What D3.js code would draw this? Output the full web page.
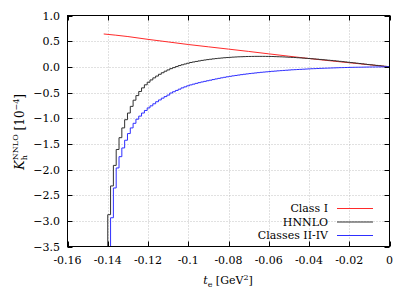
<!DOCTYPE html>
<html>
<head>
<meta charset="utf-8">
<script src="https://cdn.jsdelivr.net/npm/d3@7"></script>
<style>
html,body{margin:0;padding:0;background:#fff;}
svg{display:block;}
text{font-family:"DejaVu Serif",serif;fill:#000;}
</style>
</head>
<body>
<svg id="chart" width="415" height="291"></svg>
<script>
// ---------- data ----------
const xTicks = [-0.16,-0.14,-0.12,-0.10,-0.08,-0.06,-0.04,-0.02,0];
const xTickLabels = ["-0.16","-0.14","-0.12","-0.1","-0.08","-0.06","-0.04","-0.02","0"];
const yTicks = [1.0,0.5,0.0,-0.5,-1.0,-1.5,-2.0,-2.5,-3.0,-3.5];
const yTickLabels = ["1.0","0.5","0.0","\u22120.5","\u22121.0","\u22121.5","\u22122.0","\u22122.5","\u22123.0","\u22123.5"];

const seriesNames = ["Class I","HNNLO","Classes II-IV"];

// Class I (smooth curve)
const classI_t = [-0.142,-0.13,-0.12,-0.11,-0.10,-0.09,-0.08,-0.07,-0.06,-0.05,-0.04,-0.03,-0.02,-0.01,0];
const classI_v = [0.64,0.59,0.535,0.485,0.435,0.39,0.345,0.30,0.253,0.207,0.162,0.12,0.08,0.04,0];

// histogram bins (first bin edge, width)
const binStart = -0.1414;
const binWidth = 0.0014;

const hnnlo = [-4.5,
 -2.88,-2.32,-1.92,-1.61,-1.38,-1.19,-1.03,-0.90,-0.77,-0.65,
 -0.56,-0.48,-0.41,-0.35,-0.30,-0.255,-0.215,-0.18,-0.145,-0.115,
 -0.085,-0.06,-0.035,-0.015,0.005,0.025,0.04,0.055,0.07,0.085,
 0.095,0.105,0.115,0.125,0.133,0.141,0.148,0.155,0.161,0.167,
 0.172,0.177,0.181,0.185,0.189,0.192,0.195,0.197,0.199,0.201,
 0.202,0.203,0.204,0.204,0.204,0.204,0.203,0.202,0.201,0.199,
 0.197,0.195,0.193,0.190,0.187,0.184,0.181,0.177,0.174,0.170,
 0.166,0.162,0.158,0.153,0.149,0.144,0.139,0.134,0.129,0.124,
 0.118,0.113,0.107,0.101,0.095,0.089,0.083,0.077,0.071,0.065,
 0.058,0.052,0.046,0.040,0.034,0.028,0.022,0.016,0.010,0.004];

const classesII_IV = [-5.0,
 -4.2,-2.94,-2.36,-1.97,-1.75,-1.58,-1.43,-1.30,-1.19,-1.10,
 -1.02,-0.96,-0.90,-0.85,-0.80,-0.76,-0.72,-0.68,-0.645,-0.61,
 -0.58,-0.55,-0.51,-0.485,-0.46,-0.435,-0.41,-0.39,-0.37,-0.352,
 -0.337,-0.322,-0.308,-0.295,-0.283,-0.271,-0.26,-0.248,-0.236,-0.225,
 -0.214,-0.204,-0.194,-0.185,-0.176,-0.168,-0.160,-0.152,-0.145,-0.138,
 -0.131,-0.125,-0.119,-0.113,-0.107,-0.102,-0.097,-0.092,-0.087,-0.083,
 -0.078,-0.074,-0.070,-0.066,-0.062,-0.058,-0.055,-0.052,-0.049,-0.046,
 -0.043,-0.040,-0.037,-0.035,-0.032,-0.030,-0.028,-0.026,-0.024,-0.022,
 -0.020,-0.018,-0.016,-0.015,-0.013,-0.012,-0.010,-0.009,-0.008,-0.007,
 -0.006,-0.005,-0.004,-0.003,-0.003,-0.002,-0.002,-0.001,-0.001,0.000];

const colors = ["#ff2a2a","#303030","#2f2fff"];

// ---------- drawing ----------
const svg = d3.select("#chart");
const L = 67.5, R = 389.5, T = 15.5, B = 246.5;
const x = d3.scaleLinear().domain([-0.16,0]).range([L,R]);
const y = d3.scaleLinear().domain([-3.5,1.0]).range([B,T]);

svg.append("defs").append("clipPath").attr("id","clip")
  .append("rect").attr("x",L).attr("y",T).attr("width",R-L).attr("height",B-T);

// grid
const grid = svg.append("g").attr("stroke","#b4b4b4").attr("stroke-width",0.8).attr("stroke-dasharray","1,2");
xTicks.slice(1,-1).forEach(t=>{
  grid.append("line").attr("x1",Math.round(x(t))+0.5).attr("x2",Math.round(x(t))+0.5).attr("y1",T).attr("y2",B);
});
yTicks.slice(1,-1).forEach(v=>{
  grid.append("line").attr("y1",Math.round(y(v))+0.5).attr("y2",Math.round(y(v))+0.5).attr("x1",L).attr("x2",R);
});

// curves
const plot = svg.append("g").attr("clip-path","url(#clip)");
const smooth = d3.line().x(d=>x(d[0])).y(d=>y(d[1])).curve(d3.curveMonotoneX);
const step = d3.line().x(d=>x(d[0])).y(d=>y(d[1])).curve(d3.curveStepAfter);

function histPoints(vals){
  const pts = vals.map((v,i)=>[binStart + i*binWidth, v]);
  pts.push([0, vals[vals.length-1]]);
  return pts;
}

plot.append("path").attr("d", smooth(classI_t.map((t,i)=>[t,classI_v[i]])))
  .attr("fill","none").attr("stroke",colors[0]).attr("stroke-width",1);
plot.append("path").attr("d", step(histPoints(hnnlo)))
  .attr("fill","none").attr("stroke",colors[1]).attr("stroke-width",1);
plot.append("path").attr("d", step(histPoints(classesII_IV)))
  .attr("fill","none").attr("stroke",colors[2]).attr("stroke-width",1);

// border and ticks
const axes = svg.append("g").attr("stroke","#000").attr("stroke-width",1).attr("fill","none");
axes.append("rect").attr("x",L).attr("y",T).attr("width",R-L).attr("height",B-T);
const tl = 5;
xTicks.forEach(t=>{
  const px = Math.round(x(t))+0.5;
  axes.append("line").attr("x1",px).attr("x2",px).attr("y1",B).attr("y2",B-tl);
  axes.append("line").attr("x1",px).attr("x2",px).attr("y1",T).attr("y2",T+tl);
});
yTicks.forEach(v=>{
  const py = Math.round(y(v))+0.5;
  axes.append("line").attr("y1",py).attr("y2",py).attr("x1",L).attr("x2",L+tl);
  axes.append("line").attr("y1",py).attr("y2",py).attr("x1",R).attr("x2",R-tl);
});

// tick labels
const fs = 11;
xTicks.forEach((t,i)=>{
  svg.append("text").attr("x",x(t)).attr("y",264).attr("text-anchor","middle")
    .attr("font-size",fs).text(xTickLabels[i]);
});
yTicks.forEach((v,i)=>{
  svg.append("text").attr("x",60).attr("y",y(v)+4).attr("text-anchor","end")
    .attr("font-size",fs).text(yTickLabels[i]);
});

// x axis title
const xt = svg.append("text").attr("x",228).attr("y",284).attr("text-anchor","middle").attr("font-size",fs);
xt.append("tspan").attr("font-style","italic").text("t");
xt.append("tspan").attr("font-size",8).attr("dy",3).text("e");
xt.append("tspan").attr("dy",-3).text(" [GeV");
xt.append("tspan").attr("font-size",8).attr("dy",-4).text("2");
xt.append("tspan").attr("dy",4).text("]");

// y axis title
const yt = svg.append("text").attr("transform","translate(24,132) rotate(-90)")
  .attr("text-anchor","middle").attr("font-size",12);
yt.append("tspan").attr("font-style","italic").attr("font-size",13).text("K");
yt.append("tspan").attr("font-size",8).attr("dy",3).text("h");
yt.append("tspan").attr("font-size",8).attr("dx",-5).attr("dy",-9).text("NNLO");
yt.append("tspan").attr("dy",6).text(" [10");
yt.append("tspan").attr("font-size",8).attr("dy",-5).text("\u22124");
yt.append("tspan").attr("dy",5).text("]");

// legend
const legY = [208.5, 222, 235.5];
seriesNames.forEach((n,i)=>{
  svg.append("text").attr("x",328).attr("y",legY[i]+3.5).attr("text-anchor","end")
    .attr("font-size",fs).text(n);
  svg.append("line").attr("x1",337).attr("x2",373).attr("y1",legY[i]).attr("y2",legY[i])
    .attr("stroke",colors[i]).attr("stroke-width",1);
});
</script>
</body>
</html>
